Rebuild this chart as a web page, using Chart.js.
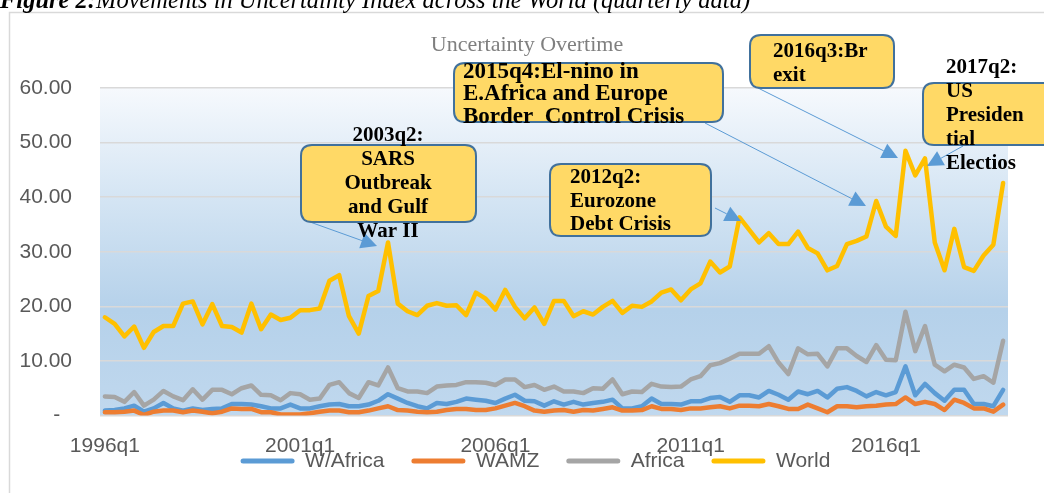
<!DOCTYPE html>
<html>
<head>
<meta charset="utf-8">
<script src="https://cdn.jsdelivr.net/npm/chart.js@4.4.0/dist/chart.umd.min.js"></script>
<style>
  html, body { margin: 0; padding: 0; background: #fff; }
</style>
</head>
<body>
<canvas id="uncertainty-chart" width="1044" height="493"></canvas>
<script>
// Quarterly categories 1996q1 .. 2019q1
const quarters = [
  '1996q1','1996q2','1996q3','1996q4','1997q1','1997q2','1997q3','1997q4',
  '1998q1','1998q2','1998q3','1998q4','1999q1','1999q2','1999q3','1999q4',
  '2000q1','2000q2','2000q3','2000q4','2001q1','2001q2','2001q3','2001q4',
  '2002q1','2002q2','2002q3','2002q4','2003q1','2003q2','2003q3','2003q4',
  '2004q1','2004q2','2004q3','2004q4','2005q1','2005q2','2005q3','2005q4',
  '2006q1','2006q2','2006q3','2006q4','2007q1','2007q2','2007q3','2007q4',
  '2008q1','2008q2','2008q3','2008q4','2009q1','2009q2','2009q3','2009q4',
  '2010q1','2010q2','2010q3','2010q4','2011q1','2011q2','2011q3','2011q4',
  '2012q1','2012q2','2012q3','2012q4','2013q1','2013q2','2013q3','2013q4',
  '2014q1','2014q2','2014q3','2014q4','2015q1','2015q2','2015q3','2015q4',
  '2016q1','2016q2','2016q3','2016q4','2017q1','2017q2','2017q3','2017q4',
  '2018q1','2018q2','2018q3','2018q4','2019q1'
];
const tickLabels = ['1996q1', '2001q1', '2006q1', '2011q1', '2016q1'];

const wAfrica = [
  0.9,1.0,1.3,1.8,0.7,1.3,2.3,1.3,0.9,1.3,1.0,1.2,1.3,2.1,2.1,2.0,1.7,1.3,1.3,2.0,1.3,1.3,1.7,2.0,
  2.1,1.7,1.7,2.0,2.7,3.9,3.1,2.3,1.7,1.3,2.3,2.1,2.5,3.1,2.9,2.7,2.3,3.1,3.8,2.7,2.6,1.8,2.6,
  2.0,2.5,2.0,2.3,2.5,2.9,1.3,1.3,1.7,3.1,2.1,2.1,2.0,2.6,2.6,3.2,3.4,2.5,3.7,3.7,3.3,4.5,3.8,
  2.9,4.4,3.9,4.5,3.3,4.9,5.2,4.5,3.5,4.3,3.7,4.3,9.0,3.7,5.8,4.1,2.7,4.7,4.7,2.1,2.1,1.7,4.7
];
const wamz = [
  0.6,0.6,0.7,0.9,0.1,0.7,0.9,0.9,0.6,0.9,0.7,0.4,0.7,1.3,1.2,1.2,0.6,0.6,0.2,0.2,0.2,0.4,0.7,0.9,
  0.9,0.6,0.6,0.9,1.3,1.7,1.0,0.9,0.7,0.6,0.7,1.0,1.2,1.2,1.0,1.0,1.3,1.8,2.3,1.7,0.9,0.7,0.9,
  1.0,0.7,1.0,0.9,1.2,1.5,0.9,0.9,1.0,1.7,1.2,1.2,1.0,1.3,1.3,1.5,1.7,1.3,1.8,1.8,1.7,2.1,1.7,
  1.2,1.2,2.0,1.3,0.6,1.7,1.7,1.5,1.7,1.8,2.0,2.1,3.3,2.1,2.5,2.1,1.0,2.9,2.3,1.3,1.3,0.7,2.0
];
const africa = [
  3.5,3.4,2.5,4.3,1.8,2.9,4.5,3.5,2.8,4.8,2.9,4.7,4.7,3.9,5.0,5.5,3.8,3.7,2.8,4.1,3.9,2.9,3.1,5.6,
  6.1,4.1,3.2,6.1,5.5,8.8,5.0,4.4,4.4,4.1,5.3,5.5,5.6,6.1,6.1,6.0,5.6,6.6,6.6,5.2,5.6,4.7,5.3,
  4.4,4.4,4.1,5.0,4.9,6.6,3.9,4.4,4.3,5.8,5.3,5.2,5.3,6.6,7.2,9.2,9.6,10.4,11.3,11.3,11.3,12.7,9.7,
  7.6,12.3,11.2,11.3,9.0,12.3,12.3,10.9,9.8,12.9,10.2,10.1,19.0,11.8,16.4,9.3,8.1,9.3,8.8,6.7,7.2,6.0,13.7
];
const world = [
  18.0,16.8,14.5,16.3,12.4,15.3,16.4,16.4,20.5,20.9,16.7,20.4,16.4,16.2,15.2,20.5,15.8,18.5,17.5,17.9,19.3,19.3,19.6,24.7,
  25.7,18.2,15.0,21.9,22.8,31.7,20.5,19.1,18.4,20.1,20.6,20.1,20.2,18.4,22.5,21.4,19.4,23.0,19.9,17.8,19.8,16.8,21.0,
  21.0,18.2,19.1,18.5,19.9,21.0,18.8,20.1,19.9,20.9,22.5,23.1,21.1,23.1,24.2,28.2,26.2,27.3,36.3,34.0,31.7,33.4,31.4,
  31.4,33.7,30.7,29.7,26.6,27.4,31.4,32.0,32.8,39.3,34.6,32.9,48.5,44.0,47.1,31.7,26.6,34.2,27.2,26.5,29.3,31.3,42.6
];

const seriesNames = ['W/Africa', 'WAMZ', 'Africa', 'World'];
const seriesColors = ['#5b9bd5', '#ed7d31', '#a5a5a5', '#ffc000'];

const captionBold = 'Figure 2:';
const captionText = 'Movements in Uncertainty Index across the World (quarterly data)';
const chartTitle = 'Uncertainty Overtime';

// callout boxes (annotation layout, in pixels)
const callouts = [
  { lines: ['2003q2:', 'SARS', 'Outbreak', 'and Gulf', 'War II'], box: [301, 145, 175, 77], textX: 388, align: 'center', size: 21, firstY: 136, lineH: 24, from: [310, 222], tip: [377, 246] },
  { lines: ['2012q2:', 'Eurozone', 'Debt Crisis'], box: [550, 164, 161, 72], textX: 570, align: 'left', size: 21, firstY: 178, lineH: 23.5, from: [715, 208], tip: [741, 221] },
  { lines: ['2015q4:El-nino in', 'E.Africa and Europe', 'Border  Control Crisis'], box: [454, 63, 269, 59], textX: 463, align: 'left', size: 23, firstY: 72, lineH: 22.5, from: [705, 123], tip: [866, 206] },
  { lines: ['2016q3:Br', 'exit'], box: [750, 35, 144, 53], textX: 773, align: 'left', size: 21, firstY: 52, lineH: 23.5, from: [758, 88], tip: [898, 158] },
  { lines: ['2017q2:', 'US', 'Presiden', 'tial', 'Electios'], box: [923, 83, 140, 62], textX: 946, align: 'left', size: 21, firstY: 68, lineH: 24, from: [963, 146], tip: [927, 166] }
];

const sansFont = "'Liberation Sans', Arial, sans-serif";
const serifFont = "'Liberation Serif', 'Times New Roman', serif";

function roundRect(ctx, x, y, w, h, r) {
    ctx.beginPath();
    ctx.moveTo(x + r, y);
    ctx.lineTo(x + w - r, y);
    ctx.quadraticCurveTo(x + w, y, x + w, y + r);
    ctx.lineTo(x + w, y + h - r);
    ctx.quadraticCurveTo(x + w, y + h, x + w - r, y + h);
    ctx.lineTo(x + r, y + h);
    ctx.quadraticCurveTo(x, y + h, x, y + h - r);
    ctx.lineTo(x, y + r);
    ctx.quadraticCurveTo(x, y, x + r, y);
    ctx.closePath();
}

// legend sits over the x labels, centred a bit right of the canvas middle
const legendShiftPlugin = {
    id: 'legendShift',
    afterLayout(chart) {
        const lg = chart.legend;
        if (!lg) return;
        lg.left += 26.5;
        lg.right += 26.5;
        lg.top -= 38;
        lg.bottom = chart.height;
        lg.height = lg.bottom - lg.top;
    }
};

// background, frame, caption and title
const backdropPlugin = {
    id: 'backdrop',
    beforeDraw(chart) {
        const ctx = chart.ctx;
        const area = chart.chartArea;
        ctx.save();
        ctx.fillStyle = '#ffffff';
        ctx.fillRect(0, 0, chart.width, chart.height);

        ctx.strokeStyle = '#d9d9d9';
        ctx.lineWidth = 1.5;
        ctx.strokeRect(9.5, 12.5, 1200, 700);

        const grad = ctx.createLinearGradient(0, area.top, 0, area.bottom);
        grad.addColorStop(0, '#f6f9fd');
        grad.addColorStop(0.35, '#d3e4f3');
        grad.addColorStop(0.68, '#b5d1ea');
        grad.addColorStop(1, '#c0d8ee');
        ctx.fillStyle = grad;
        ctx.fillRect(area.left, area.top, area.right - area.left, area.bottom - area.top);

        ctx.fillStyle = '#000000';
        ctx.textBaseline = 'alphabetic';
        ctx.textAlign = 'left';
        ctx.font = 'italic bold 24.5px ' + serifFont;
        ctx.fillText(captionBold, 0, 8);
        const w = ctx.measureText(captionBold).width;
        ctx.font = 'italic 24.5px ' + serifFont;
        ctx.fillText(captionText, w, 8);

        ctx.fillStyle = '#7f7f7f';
        ctx.font = '22px ' + serifFont;
        ctx.textAlign = 'center';
        ctx.textBaseline = 'middle';
        ctx.fillText(chartTitle, 527, 45);
        ctx.restore();
    }
};

// event callouts with arrows
const calloutPlugin = {
    id: 'callouts',
    afterDraw(chart) {
        const ctx = chart.ctx;
        ctx.save();
        callouts.forEach(c => {
            const [x0, y0] = c.from;
            const [x1, y1] = c.tip;
            const ang = Math.atan2(y1 - y0, x1 - x0);
            const headLen = 16, headW = 8;
            const hx = x1 - headLen * Math.cos(ang);
            const hy = y1 - headLen * Math.sin(ang);
            ctx.strokeStyle = '#5b9bd5';
            ctx.fillStyle = '#5b9bd5';
            ctx.lineWidth = 1;
            ctx.beginPath();
            ctx.moveTo(x0, y0);
            ctx.lineTo(hx, hy);
            ctx.stroke();
            ctx.beginPath();
            ctx.moveTo(x1, y1);
            ctx.lineTo(hx + headW * Math.sin(ang), hy - headW * Math.cos(ang));
            ctx.lineTo(hx - headW * Math.sin(ang), hy + headW * Math.cos(ang));
            ctx.closePath();
            ctx.fill();

            const [bx0, by0, bw, bh] = c.box;
            roundRect(ctx, bx0, by0, bw, bh, 11);
            ctx.fillStyle = '#ffd966';
            ctx.fill();
            ctx.strokeStyle = '#41719c';
            ctx.lineWidth = 2;
            ctx.stroke();

            ctx.fillStyle = '#000000';
            ctx.font = 'bold ' + c.size + 'px ' + serifFont;
            ctx.textAlign = c.align;
            ctx.textBaseline = 'middle';
            c.lines.forEach((line, i) => {
                ctx.fillText(line, c.textX, c.firstY + i * c.lineH);
            });
        });
        ctx.restore();
    }
};

const datasets = seriesNames.map((name, i) => ({
    label: name,
    data: [wAfrica, wamz, africa, world][i],
    borderColor: seriesColors[i],
    backgroundColor: seriesColors[i],
    borderWidth: 4.5,
    pointRadius: 0,
    pointHoverRadius: 0,
    tension: 0,
    fill: false,
    borderJoinStyle: 'round',
    borderCapStyle: 'round',
    order: seriesNames.length - i
}));

const chartCanvas = document.getElementById('uncertainty-chart');
const chartContext = chartCanvas.getContext('2d');

window.uncertaintyChart = new Chart(chartContext, {
    type: 'line',
    data: {
        labels: quarters,
        datasets: datasets
    },
    options: {
        responsive: false,
        animation: false,
        devicePixelRatio: 1,
        layout: {
            padding: { left: 10, right: 36, top: 88, bottom: 19.5 }
        },
        plugins: {
            tooltip: { enabled: false },
            title: { display: false },
            legend: {
                position: 'bottom',
                maxHeight: 12,
                labels: {
                    boxWidth: 54,
                    boxHeight: 5,
                    padding: 27,
                    color: '#595959',
                    font: { family: sansFont, size: 21 },
                    useBorderRadius: true,
                    borderRadius: 2.5,
                    sort: (a, b) => a.datasetIndex - b.datasetIndex,
                    generateLabels(chart) {
                        const items = Chart.defaults.plugins.legend.labels.generateLabels(chart);
                        items.forEach(item => {
                            item.lineWidth = 0;
                            item.fillStyle = item.strokeStyle;
                        });
                        return items;
                    }
                }
            }
        },
        scales: {
            x: {
                offset: true,
                grid: { display: false, drawTicks: false },
                border: { display: false },
                ticks: {
                    autoSkip: false,
                    maxRotation: 0,
                    padding: 17.7,
                    color: '#595959',
                    font: { family: sansFont, size: 21 },
                    callback(value, index) {
                        const label = quarters[index];
                        return tickLabels.includes(label) ? label : '';
                    }
                },
                afterFit(scale) {
                    scale.height = 46;
                }
            },
            y: {
                min: 0,
                max: 60,
                grid: { color: '#d9d9d9', lineWidth: 1.5, drawTicks: false },
                border: { display: false },
                ticks: {
                    stepSize: 10,
                    padding: 28,
                    color: '#595959',
                    font: { family: sansFont, size: 21 },
                    callback(value) {
                        return value === 0 ? '-  ' : value.toFixed(2);
                    }
                },
                afterFit(scale) {
                    scale.width = 90;
                }
            }
        }
    },
    plugins: [legendShiftPlugin, backdropPlugin, calloutPlugin]
});
</script>
</body>
</html>
